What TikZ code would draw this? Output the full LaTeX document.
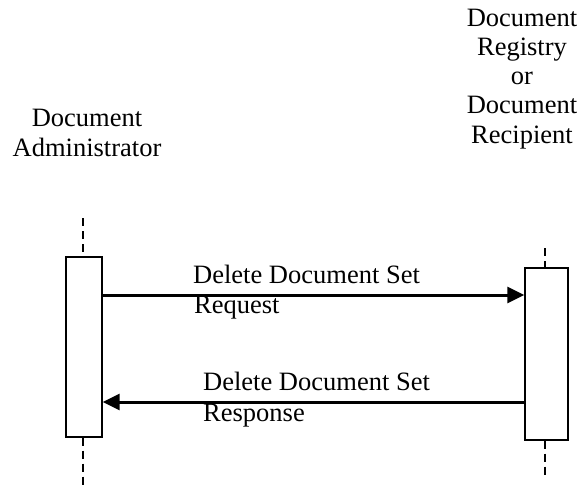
\documentclass[tikz,border=0pt]{standalone}
\usepackage{fontspec}
\setmainfont{Liberation Serif}
\usetikzlibrary{arrows.meta}
\begin{document}
\begin{tikzpicture}[x=1pt,y=-1pt,
  lbl/.style={font=\fontsize{26.5}{29.5}\selectfont, inner sep=0pt, anchor=base west},
  ttl/.style={font=\fontsize{26.5}{29.2}\selectfont, inner sep=0pt, align=center, anchor=base},
  actbox/.style={draw, line width=1.4pt, fill=white, inner sep=0pt},
  life/.style={line width=2.4pt, dash pattern=on 8pt off 5pt},
  msg/.style={line width=3pt, -{Triangle[length=17pt,width=16pt]}}]
\useasboundingbox (0,0) rectangle (580,493);
% titles (base = baseline of last line)
\node[ttl] (tadm) at (87,156) {Document\\Administrator};
\node[ttl] (treg) at (522,143) {Document\\Registry\\or\\Document\\Recipient};
% lifeline ends
\coordinate (ltop) at (83,218);
\coordinate (lbot) at (83,488);
\coordinate (rtop) at (545,248);
\coordinate (rbot) at (545,478);
% activation boxes
\node[actbox, minimum width=36pt, minimum height=180pt] (lbox) at (84,347) {};
\node[actbox, minimum width=43pt, minimum height=172pt] (rbox) at (546.5,354) {};
\draw[life] (ltop) -- (ltop |- lbox.north);
\draw[life] (ltop |- lbox.south) -- (lbot);
\draw[life] (rtop) -- (rtop |- rbox.north);
\draw[life] (rtop |- rbox.south) -- (rbot);
% messages
\coordinate (m1) at (0,295);
\coordinate (m2) at (0,402);
\draw[msg] (lbox.east |- m1) -- (rbox.west |- m1);
\draw[msg] (rbox.west |- m2) -- (lbox.east |- m2);
\node[lbl] (l1a) at (193,283) {Delete Document Set};
\node[lbl] (l1b) at (194,313) {Request};
\node[lbl] (l2a) at (203,390) {Delete Document Set};
\node[lbl] (l2b) at (203,421) {Response};
\end{tikzpicture}
\end{document}
